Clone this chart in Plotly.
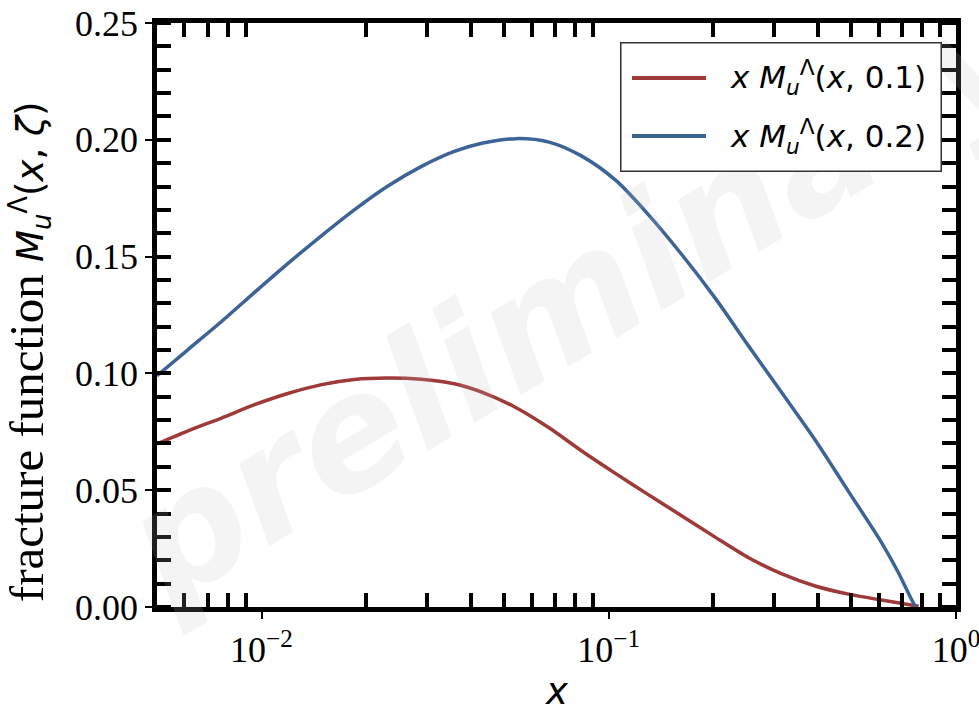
import math
import plotly.graph_objects as go

# ---- data ----
x_red = [0.005, 0.00612, 0.00767, 0.00955, 0.0119, 0.0149, 0.0185, 0.023, 0.0288, 0.0359,
         0.0431, 0.0541, 0.0673, 0.0836, 0.105, 0.13, 0.162, 0.203, 0.252, 0.314, 0.393,
         0.49, 0.608, 0.70, 0.78]
y_red = [0.0698, 0.0753, 0.0809, 0.0866, 0.0914, 0.0952, 0.0974, 0.0980, 0.0975, 0.0956,
         0.0920, 0.0853, 0.0767, 0.0668, 0.0570, 0.0481, 0.0391, 0.0298, 0.0212, 0.0143, 0.0090,
         0.0055, 0.0030, 0.0015, 0.0003]
x_blue = [0.005, 0.00612, 0.00767, 0.00955, 0.0119, 0.0149, 0.0185, 0.023, 0.0288, 0.0359,
          0.0431, 0.0541, 0.0673, 0.0836, 0.105, 0.13, 0.162, 0.203, 0.252, 0.314, 0.393,
          0.49, 0.608, 0.681, 0.743, 0.765]
y_blue = [0.0990, 0.1100, 0.1222, 0.1347, 0.1470, 0.1590, 0.1700, 0.1800, 0.1885, 0.1950,
          0.1985, 0.2005, 0.1990, 0.1930, 0.1825, 0.1680, 0.1510, 0.1320, 0.1120, 0.0920, 0.0715,
          0.0495, 0.0280, 0.0150, 0.0035, 0.0]

names = ["<i>x M</i><sub><i>u</i></sub><sup>Λ</sup>(<i>x</i>, 0.1)",
         "<i>x M</i><sub><i>u</i></sub><sup>Λ</sup>(<i>x</i>, 0.2)"]
colors = ["#9e3a38", "#3c6496"]

x_major = [0.01, 0.1, 1]
x_major_text = ["10<sup>−2</sup>", "10<sup>−1</sup>", "10<sup>0</sup>"]
x_minor = [0.006, 0.007, 0.008, 0.009,
           0.02, 0.03, 0.04, 0.05, 0.06, 0.07, 0.08, 0.09,
           0.2, 0.3, 0.4, 0.5, 0.6, 0.7, 0.8, 0.9]
y_major = [0.0, 0.05, 0.10, 0.15, 0.20, 0.25]
x_range = [0.005, 1.0]
y_range = [0.0, 0.25]

xr_log = [math.log10(x_range[0]), math.log10(x_range[1])]

SERIF = "Liberation Serif"
SANS = "DejaVu Sans"

fig = go.Figure()
fig.add_trace(go.Scatter(x=x_red, y=y_red, mode="lines",
                         line=dict(color=colors[0], width=3.5, shape="spline", smoothing=0.8),
                         name=names[0], showlegend=False))
fig.add_trace(go.Scatter(x=x_blue, y=y_blue, mode="lines",
                         line=dict(color=colors[1], width=3.5, shape="spline", smoothing=0.8),
                         name=names[1], showlegend=False))
# empty trace so that the mirrored (top/right) axes exist
fig.add_trace(go.Scatter(x=[], y=[], xaxis="x2", yaxis="y2", showlegend=False, hoverinfo="skip"))

minor_style = dict(ticks="inside", ticklen=14, tickwidth=4, tickcolor="black", showgrid=False)

fig.update_layout(
    width=979, height=711,
    margin=dict(l=157, r=23, t=23, b=104),
    paper_bgcolor="white", plot_bgcolor="white",
    showlegend=False,
    xaxis=dict(type="log", range=xr_log, showgrid=False, zeroline=False, automargin=False,
               showline=True, linewidth=4.5, linecolor="black", mirror=True,
               tickmode="array", tickvals=x_major, ticktext=x_major_text,
               ticks="outside", ticklen=7, tickwidth=1.5, tickcolor="black",
               ticklabeloverflow="allow",
               tickfont=dict(family=SERIF, size=36, color="black"),
               minor=dict(tickmode="array", tickvals=x_minor, **minor_style)),
    yaxis=dict(range=y_range, showgrid=False, zeroline=False, automargin=False,
               showline=True, linewidth=4.5, linecolor="black", mirror=True,
               tickmode="array", tickvals=y_major, tickformat=".2f",
               ticks="outside", ticklen=7, tickwidth=1.5, tickcolor="black",
               ticklabeloverflow="allow",
               tickfont=dict(family=SERIF, size=36, color="black"),
               minor=dict(tickmode="linear", tick0=0, dtick=0.01, **minor_style)),
    xaxis2=dict(type="log", range=xr_log, overlaying="x", side="top", anchor="y2", automargin=False,
                showgrid=False, zeroline=False, showline=False, showticklabels=False,
                tickmode="array", tickvals=x_major, ticks="",
                minor=dict(tickmode="array", tickvals=x_minor, **minor_style)),
    yaxis2=dict(range=y_range, overlaying="y", side="right", anchor="x2", automargin=False,
                showgrid=False, zeroline=False, showline=False, showticklabels=False,
                tickmode="array", tickvals=y_major, ticks="",
                minor=dict(tickmode="linear", tick0=0, dtick=0.01, **minor_style)),
)

annotations = []
# y-axis title (serif words + sans math)
annotations.append(dict(
    text="fracture function <span style='font-family:DejaVu Sans;font-size:37px'><i>M</i><sub><i>u</i></sub>"
         "<sup>Λ</sup>(<i>x</i>, <i>ζ</i>)</span>",
    xref="paper", yref="paper", x=-0.162, y=0.005, xanchor="center", yanchor="bottom",
    textangle=-90, showarrow=False, font=dict(family=SERIF, size=49, color="black")))
# x-axis title
annotations.append(dict(text="<i>x</i>", xref="paper", yref="paper", x=0.5, y=-0.145,
                        xanchor="center", yanchor="middle", showarrow=False,
                        font=dict(family=SANS, size=37, color="black")))
# watermark
annotations.append(dict(text="preliminary", xref="paper", yref="paper", x=0.53, y=0.535,
                        xanchor="center", yanchor="middle",
                        showarrow=False, textangle=-31,
                        font=dict(family=SANS, size=158, color="rgba(190,190,190,0.17)",
                                  weight="bold", style="italic")))
# legend box
annotations.append(dict(text=" ", xref="paper", yref="paper", x=0.983, y=0.9675,
                        xanchor="right", yanchor="top",
                        showarrow=False, width=319, height=127, bgcolor="white",
                        bordercolor="#333333", borderwidth=1.5, borderpad=0,
                        font=dict(size=1)))
leg_y = [0.906, 0.806]
for c, n, ly in zip(colors, names, leg_y):
    annotations.append(dict(text=" ", xref="paper", yref="paper", x=0.594, y=ly,
                            xanchor="left", yanchor="middle",
                            showarrow=False, width=74, height=4, bgcolor=c,
                            borderpad=0, borderwidth=0, font=dict(size=1)))
    annotations.append(dict(text=n, xref="paper", yref="paper", x=0.715, y=ly,
                            xanchor="left", yanchor="middle", showarrow=False,
                            font=dict(family=SANS, size=31, color="black")))
fig.update_layout(annotations=annotations)

fig.write_html("out.html")
